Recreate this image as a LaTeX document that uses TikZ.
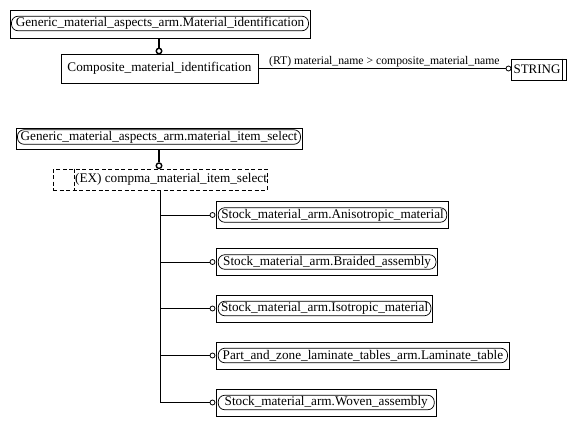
\documentclass[tikz,border=0pt]{standalone}
\usepackage{fontspec}
\setmainfont{Liberation Serif}
\newcommand\dfont{\fontsize{13.2}{14}\selectfont}
\newcommand\lfont{\fontsize{11.7}{13}\selectfont}
\begin{document}
\begin{tikzpicture}[x=1pt,y=-1pt,
  outerbox/.style={draw, line width=0.8pt, inner sep=0pt},
  innerbox/.style={draw, line width=0.7pt, rounded corners=6.5pt, inner sep=0pt, minimum height=14.5pt, font=\dfont},
  plainbox/.style={draw, line width=0.8pt, inner sep=0pt, font=\dfont},
  exbox/.style={draw, line width=0.8pt, inner sep=0pt, dash pattern=on 4pt off 2.5pt},
  circ/.style={draw, circle, fill=white, inner sep=0pt, minimum size=5pt, line width=0.8pt},
  boldcirc/.style={draw, circle, fill=white, inner sep=0pt, minimum size=5.5pt, line width=1.4pt},
  link/.style={line width=0.8pt},
  thicklink/.style={line width=1.8pt},
  lbl/.style={font=\dfont, inner sep=0pt}
]
\useasboundingbox (0,0) rectangle (576,426);

% top group
\node[outerbox, minimum width=300.5pt, minimum height=28pt] (b1) at (160.25,24) {};
\node[innerbox, minimum width=297pt] (b1i) at (160,23.5) {Generic\_material\_aspects\_arm.Material\_identification};
\node[plainbox, minimum width=197pt, minimum height=29pt] (b2) at (159.5,68.5) {Composite\_material\_identification};
\node[boldcirc] (c1) at (159,51) {};
\draw[thicklink] (b1.south -| c1) -- (c1.north);

\node[outerbox, minimum width=55pt, minimum height=21pt] (str) at (538.5,69.5) {};
\node[lbl, font=\fontsize{13}{14}\selectfont] (strt) at (537,69.5) {STRING};
\coordinate (strbar) at (562,69.5);
\draw[link] (strbar |- str.north) -- (strbar |- str.south);
\node[circ] (c2) at (508.5,68.5) {};
\draw[link] (b2.east |- c2) -- (c2.west);
\node[lbl, font=\lfont, anchor=base west] (rt) at (269,64) {(RT) material\_name > composite\_material\_name};

% select group
\node[outerbox, minimum width=286.5pt, minimum height=21pt] (b3) at (159.25,138.5) {};
\node[innerbox, minimum width=283pt] (b3i) at (159,137) {Generic\_material\_aspects\_arm.material\_item\_select};
\node[exbox, minimum width=214pt, minimum height=21pt] (ex) at (160,179.5) {};
\coordinate (exbar) at (74,179.5);
\draw[link, dash pattern=on 4pt off 2.5pt] (exbar |- ex.north) -- (exbar |- ex.south);
\node[lbl, anchor=west] (ext) at (75,179.5) {(EX) compma\_material\_item\_select};
\node[boldcirc] (c3) at (159,165.7) {};
\draw[thicklink] (b3.south -| c3) -- (c3.north);

% branches
\node[outerbox, minimum width=232pt, minimum height=27pt] (s1) at (332.5,215) {};
\node[innerbox, minimum width=228.5pt] (s1i) at (s1.center) {Stock\_material\_arm.Anisotropic\_material};
\node[outerbox, minimum width=221.2pt, minimum height=27pt] (s2) at (327.1,262) {};
\node[innerbox, minimum width=217.7pt] (s2i) at (s2.center) {Stock\_material\_arm.Braided\_assembly};
\node[outerbox, minimum width=216.2pt, minimum height=27pt] (s3) at (324.6,308.5) {};
\node[innerbox, minimum width=212.7pt] (s3i) at (s3.center) {Stock\_material\_arm.Isotropic\_material};
\node[outerbox, minimum width=292.8pt, minimum height=27pt] (s4) at (362.9,355.5) {};
\node[innerbox, minimum width=289.3pt] (s4i) at (s4.center) {Part\_and\_zone\_laminate\_tables\_arm.Laminate\_table};
\node[outerbox, minimum width=219.5pt, minimum height=27pt] (s5) at (326.25,402.5) {};
\node[innerbox, minimum width=216pt] (s5i) at (s5.center) {Stock\_material\_arm.Woven\_assembly};

\coordinate (tend) at (160,402.5);
\draw[link] (ex.south -| tend) -- (tend);
\foreach \i in {1,...,5} {
  \node[circ] (k\i) at (212.5,0 |- s\i.center) {};
  \draw[link] (tend |- k\i) -- (k\i.west);
}
\end{tikzpicture}
\end{document}
